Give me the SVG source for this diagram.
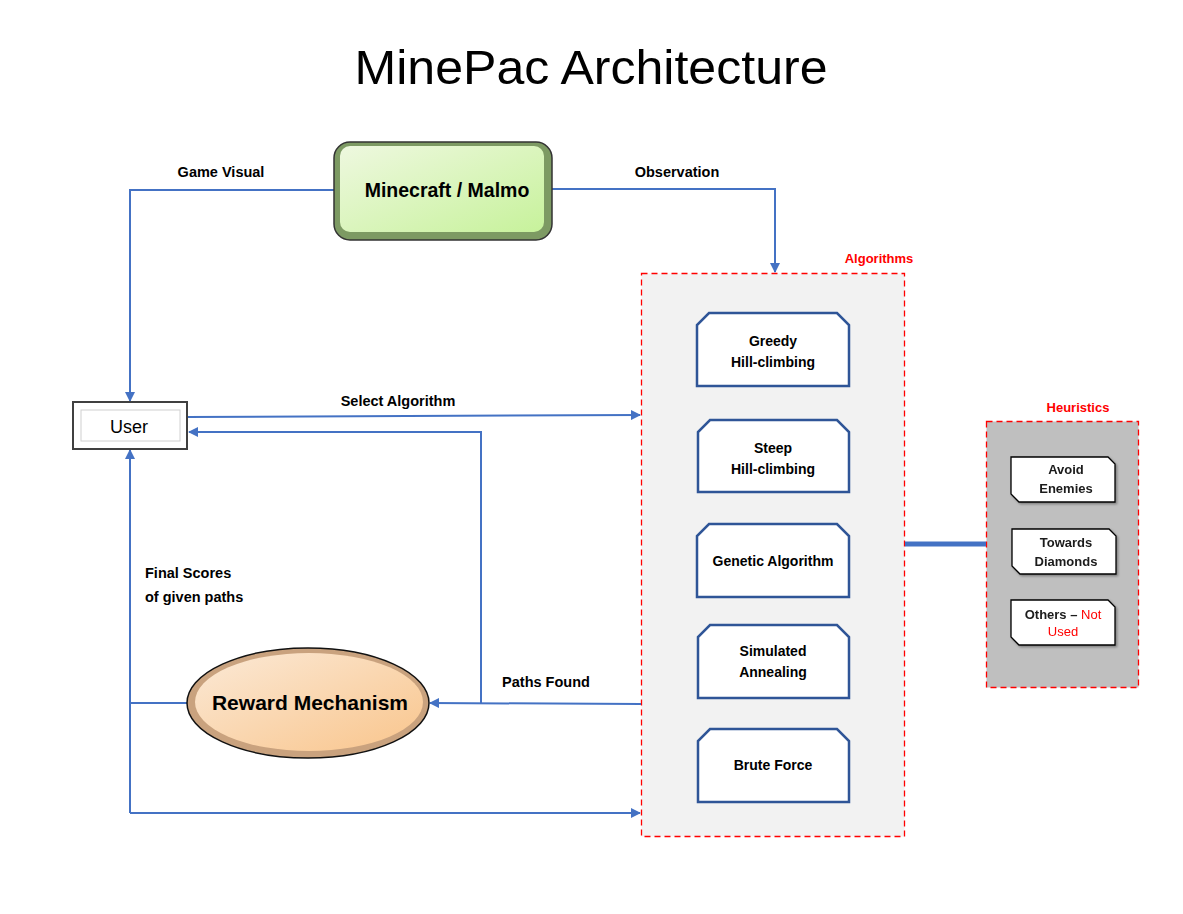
<svg xmlns="http://www.w3.org/2000/svg" width="1183" height="914" viewBox="0 0 1183 914">
<defs>
<linearGradient id="gGreen" x1="0" y1="0" x2="1" y2="1"><stop offset="0" stop-color="#eef8df"/><stop offset="1" stop-color="#c7f29b"/></linearGradient>
<linearGradient id="gOrange" x1="0" y1="0" x2="1" y2="1"><stop offset="0" stop-color="#fbe9d6"/><stop offset="1" stop-color="#f9c58c"/></linearGradient>
<marker id="arr" viewBox="0 0 10 10" refX="9" refY="5" markerWidth="5" markerHeight="5" orient="auto-start-reverse" markerUnits="strokeWidth"><path d="M0,0 L10,5 L0,10 z" fill="#4472c4"/></marker>
<filter id="sh" x="-10%" y="-10%" width="130%" height="130%"><feDropShadow dx="1.5" dy="1.5" stdDeviation="1" flood-color="#000" flood-opacity="0.35"/></filter>
</defs>
<style>
text{font-family:"Liberation Sans",Arial,sans-serif;fill:#000}
.lbl{font-size:14.5px;font-weight:bold}
.alg{font-size:14px;font-weight:bold;text-anchor:middle}
.heu{font-size:13px;font-weight:bold;text-anchor:middle;fill:#1a1a1a}
.red{fill:#ff0000;font-weight:bold;font-size:13px}
.conn{fill:none;stroke:#4472c4;stroke-width:2}
.abox{fill:#ffffff;stroke:#2f5597;stroke-width:2.5}
.hbox{fill:#ffffff;stroke:#000;stroke-width:1.3}
</style>
<rect width="1183" height="914" fill="#ffffff"/>
<text x="591" y="84" font-size="48" text-anchor="middle" textLength="473" lengthAdjust="spacingAndGlyphs">MinePac Architecture</text>

<g id="algorithms-container">
<rect x="641.5" y="273.5" width="263" height="563" fill="#f2f2f2" stroke="#ff0000" stroke-width="1.3" stroke-dasharray="6,4"/>
<text x="879" y="263" class="red" text-anchor="middle">Algorithms</text>
</g>
<g id="heuristics-container">
<rect x="986.5" y="421.5" width="152" height="266" fill="#bfbfbf" stroke="#ff0000" stroke-width="1.3" stroke-dasharray="6,4"/>
<text x="1078" y="412" class="red" text-anchor="middle">Heuristics</text>
</g>

<g id="connectors">
<polyline class="conn" points="334,190 130,190 130,401" marker-end="url(#arr)"/>
<polyline class="conn" points="552,189 775,189 775,272" marker-end="url(#arr)"/>
<line class="conn" x1="187" y1="417" x2="640" y2="415" marker-end="url(#arr)"/>
<polyline class="conn" points="481,703 481,432 189,432" marker-end="url(#arr)"/>
<line class="conn" x1="641" y1="704" x2="430" y2="703" marker-end="url(#arr)"/>
<polyline class="conn" points="188,703 130,703"/>
<polyline class="conn" points="130,813 130,450" marker-end="url(#arr)"/>
<polyline class="conn" points="130,813 640,813" marker-end="url(#arr)"/>
<line x1="905" y1="544" x2="986" y2="544" stroke="#4472c4" stroke-width="5"/>
<text x="221" y="177" class="lbl" text-anchor="middle">Game Visual</text>
<text x="677" y="177" class="lbl" text-anchor="middle">Observation</text>
<text x="398" y="406" class="lbl" text-anchor="middle">Select Algorithm</text>
<text x="546" y="687" class="lbl" text-anchor="middle">Paths Found</text>
<text x="145" y="578" class="lbl">Final Scores</text>
<text x="145" y="602" class="lbl">of given paths</text>
</g>

<g id="minecraft">
<rect x="334" y="142" width="218" height="98" rx="16" fill="#7d9a63" stroke="#333" stroke-width="1.5"/>
<rect x="340" y="146" width="204" height="86" rx="10" fill="url(#gGreen)"/>
<text x="447" y="197" font-size="19.5" font-weight="bold" text-anchor="middle">Minecraft / Malmo</text>
</g>

<g id="user">
<rect x="73" y="402" width="114" height="47" fill="#ffffff" stroke="#404040" stroke-width="2"/>
<rect x="81" y="410" width="99" height="31" fill="#ffffff" stroke="#d0d0d0" stroke-width="1"/>
<text x="129" y="433" font-size="18" text-anchor="middle">User</text>
</g>

<g id="reward">
<ellipse cx="308" cy="703" rx="121" ry="55" fill="#c9a27e" stroke="#111" stroke-width="1.5"/>
<ellipse cx="309" cy="702" rx="114" ry="49" fill="url(#gOrange)"/>
<text x="310" y="710" font-size="21" font-weight="bold" text-anchor="middle">Reward Mechanism</text>
</g>

<g id="greedy">
<path class="abox" d="M709,313 L837,313 L849,325 L849,386 L697,386 L697,325 Z"/>
<text x="773" y="346" class="alg">Greedy</text>
<text x="773" y="367" class="alg">Hill-climbing</text>
</g>
<g id="steep">
<path class="abox" d="M710,420 L837,420 L849,432 L849,492 L698,492 L698,432 Z"/>
<text x="773" y="453" class="alg">Steep</text>
<text x="773" y="474" class="alg">Hill-climbing</text>
</g>
<g id="genetic">
<path class="abox" d="M709,524 L837,524 L849,536 L849,597 L697,597 L697,536 Z"/>
<text x="773" y="566" class="alg">Genetic Algorithm</text>
</g>
<g id="simulated">
<path class="abox" d="M710,625 L837,625 L849,637 L849,698 L698,698 L698,637 Z"/>
<text x="773" y="656" class="alg">Simulated</text>
<text x="773" y="677" class="alg">Annealing</text>
</g>
<g id="brute">
<path class="abox" d="M710,729 L837,729 L849,741 L849,802 L698,802 L698,741 Z"/>
<text x="773" y="770" class="alg">Brute Force</text>
</g>

<g id="avoid" filter="url(#sh)">
<path class="hbox" d="M1011,457 L1108,457 L1115,464 L1115,502 L1019,502 L1011,494 Z"/>
<text x="1066" y="474" class="heu">Avoid</text>
<text x="1066" y="493" class="heu">Enemies</text>
</g>
<g id="towards" filter="url(#sh)">
<path class="hbox" d="M1012,529 L1109,529 L1116,536 L1116,574 L1020,574 L1012,566 Z"/>
<text x="1066" y="547" class="heu">Towards</text>
<text x="1066" y="566" class="heu">Diamonds</text>
</g>
<g id="others" filter="url(#sh)">
<path class="hbox" d="M1011,600 L1108,600 L1115,607 L1115,645 L1019,645 L1011,637 Z"/>
<text x="1063" y="619" class="heu">Others – <tspan fill="#ff0000" font-weight="normal">Not</tspan></text>
<text x="1063" y="636" class="heu" style="fill:#ff0000;font-weight:normal">Used</text>
</g>
</svg>
